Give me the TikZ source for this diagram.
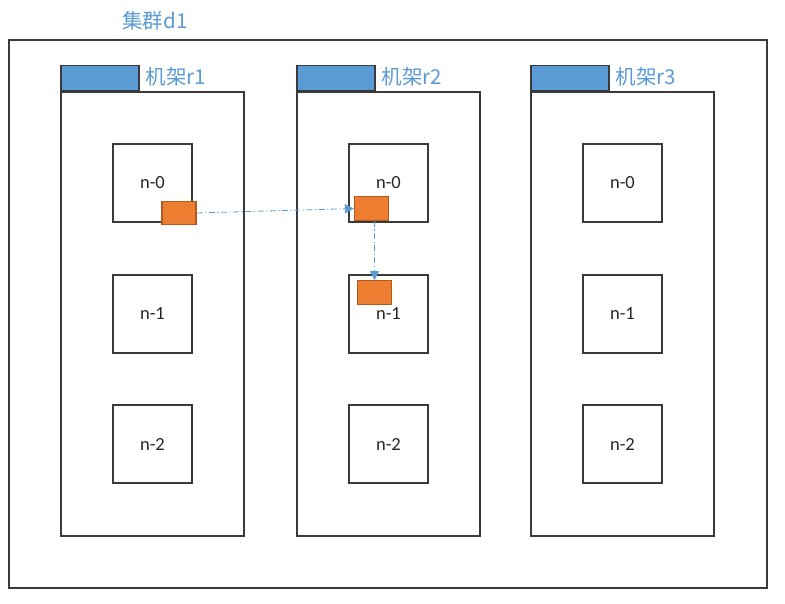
\documentclass[tikz,border=0pt]{standalone}
\usepackage{fontspec}
\setmainfont{Carlito}
\newfontfamily\cjk{Noto Sans CJK SC}
\usetikzlibrary{arrows.meta,positioning}
\definecolor{tabblue}{HTML}{5B9BD5}
\definecolor{lblblue}{HTML}{5B9BD5}
\definecolor{orfill}{HTML}{ED7D31}
\definecolor{ordraw}{HTML}{B05A1E}
\definecolor{edge}{HTML}{3A3A3A}
\begin{document}
\begin{tikzpicture}[x=1pt,y=-1pt,
  box/.style={draw=edge,line width=1.2pt,fill=white,inner sep=0pt,rectangle},
  outerbox/.style={box,minimum width=758pt,minimum height=548pt},
  rackbox/.style={box,minimum width=183pt,minimum height=444pt},
  tabbox/.style={draw=edge,line width=1.1pt,fill=tabblue,inner sep=0pt,minimum width=78pt,minimum height=25pt,anchor=south west},
  nodebox/.style={box,minimum width=79pt,minimum height=78pt,font=\fontsize{18.5}{20}\selectfont,text=black!85},
  blk/.style={draw=ordraw,line width=1.3pt,fill=orfill,inner sep=0pt,minimum width=34pt,minimum height=23.5pt},
  lbl/.style={text=lblblue,font=\cjk\fontsize{20.5}{24}\selectfont,inner sep=0pt},
  flow/.style={draw=lblblue,line width=0.8pt,dash pattern=on 6pt off 2.5pt on 1.2pt off 2.5pt,-{Triangle[length=9pt,width=9pt]}}]
\useasboundingbox (0,0) rectangle (785,604);
\node[outerbox] (outer) at (388,314) {};
\node[lbl] (lcluster) at (155,21) {集群d1};
\foreach \i/\x in {1/152.5,2/388.5,3/622.5}{
  \node[rackbox] (r\i) at (\x,314) {};
  \node[tabbox] (t\i) at (r\i.north west) {};
  \node[lbl,anchor=west] (lr\i) at ([xshift=6pt,yshift=1.5pt]t\i.east) {机架r\i};
  \node[nodebox] (n\i0) at (\x,183) {n-0};
  \node[nodebox] (n\i1) at (\x,314) {n-1};
  \node[nodebox] (n\i2) at (\x,444) {n-2};
}
\node[blk] (o1) at (179,213) {};
\node[blk] (o2) at (371.5,208.5) {};
\node[blk] (o3) at (374.5,292.5) {};
\draw[flow] (o1.east) -- (o2.west);
\draw[flow] (o3.north |- o2.south) -- (o3.north);
\end{tikzpicture}
\end{document}
